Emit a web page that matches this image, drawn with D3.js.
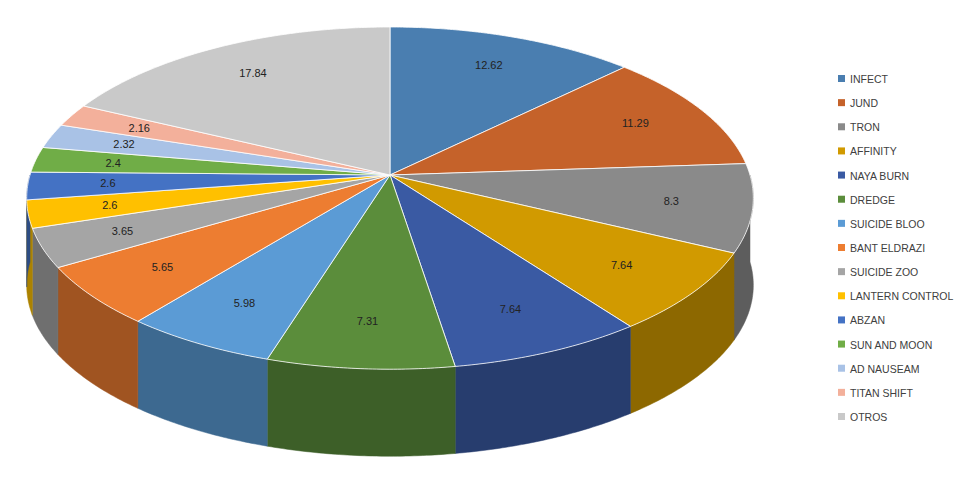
<!DOCTYPE html>
<html><head><meta charset="utf-8">
<script src="https://cdn.jsdelivr.net/npm/d3@7"></script>
<style>body{margin:0;background:#fff}</style></head>
<body><svg id="c" width="962" height="478"></svg>
<script>
const categories=["INFECT","JUND","TRON","AFFINITY","NAYA BURN","DREDGE","SUICIDE BLOO","BANT ELDRAZI","SUICIDE ZOO","LANTERN CONTROL","ABZAN","SUN AND MOON","AD NAUSEAM","TITAN SHIFT","OTROS"];
const values=[12.62,11.29,8.3,7.64,7.64,7.31,5.98,5.65,3.65,2.6,2.6,2.4,2.32,2.16,17.84];
const colors=["#4a7eb0","#c5622a","#8a8a8a","#d19a00","#3a5aa3","#5b8d3b","#5b9bd5","#ed7d31","#a5a5a5","#ffc000","#4472c4","#70ad47","#a9c2e6","#f3b09b","#c9c9c9"];

const svg=d3.select("#c");
const cx=390,cy=175,rx=360,a=168,k=0.135,depth=87;
function P(t,dy){const c=Math.cos(t),s=Math.sin(t);const f=1+k*c;return [cx+rx*s/f, cy-a*c/f+(dy||0)];}
const pie=d3.pie().sort(null).value(d=>d)(values);
const step=0.01;
function arcPts(a0,a1,dy){const pts=[];const n=Math.max(2,Math.ceil((a1-a0)/step));for(let i=0;i<=n;i++)pts.push(P(a0+(a1-a0)*i/n,dy));return pts;}
const line=d3.line();
const sides=svg.append("g");
pie.forEach((p,i)=>{
  const lo=Math.max(p.startAngle,Math.PI/2), hi=Math.min(p.endAngle,3*Math.PI/2);
  if(hi<=lo)return;
  const top=arcPts(lo,hi,0), bot=arcPts(lo,hi,depth).reverse();
  const col=d3.color(colors[i]).darker(1.1);
  sides.append("path").attr("d",line(top.concat(bot))+"Z")
    .attr("fill",col).attr("stroke",col).attr("stroke-width",0.5);
});
const tops=svg.append("g");
pie.forEach((p,i)=>{
  const pts=[[cx,cy]].concat(arcPts(p.startAngle,p.endAngle,0));
  tops.append("path").attr("d",line(pts)+"Z").attr("fill",colors[i]).attr("stroke","#fff").attr("stroke-width",0.8);
});
pie.forEach((p,i)=>{
  const m=(p.startAngle+p.endAngle)/2; const c=Math.cos(m),s=Math.sin(m);const r=0.78;
  const f=1+k*c*r;
  const x=cx+rx*r*s/f, y=cy-a*r*c/f;
  svg.append("text").attr("x",x).attr("y",y+4).attr("text-anchor","middle")
    .attr("font-family","Liberation Sans, Arial").attr("font-size",11).attr("fill","#222").text(values[i]);
});
const lg=svg.append("g");
const ly=d3.scaleLinear().domain([0,categories.length-1]).range([79,417]);
categories.forEach((c,i)=>{
  lg.append("rect").attr("x",838).attr("y",ly(i)-4).attr("width",7).attr("height",7).attr("fill",colors[i]);
  lg.append("text").attr("x",850).attr("y",ly(i)+4).attr("font-family","Liberation Sans, Arial").attr("font-size",10.5).attr("fill","#404040").text(c);
});
</script></body></html>
